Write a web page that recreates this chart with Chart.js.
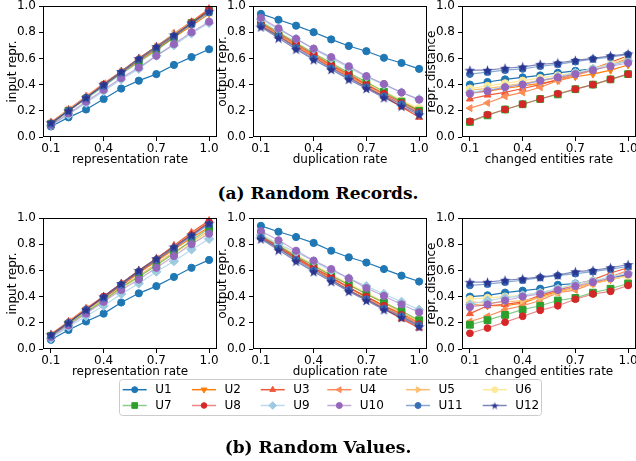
<!DOCTYPE html>
<html><head><meta charset="utf-8">
<script src="https://cdn.jsdelivr.net/npm/chart.js@4"></script>
<style>
html,body{margin:0;padding:0;background:#fff;}
#wrap{position:relative;width:636px;height:461px;overflow:hidden;background:#fff;}
canvas{position:absolute;}
.cap{position:absolute;left:0;width:636px;text-align:center;font-family:'DejaVu Serif';font-weight:bold;font-size:17px;color:#000;line-height:20px;}
</style></head>
<body><div id="wrap">
<canvas id="c1" width="227" height="172" style="left:0;top:-4px"></canvas>
<canvas id="c2" width="227" height="172" style="left:210px;top:-4px"></canvas>
<canvas id="c3" width="227" height="172" style="left:419px;top:-4px"></canvas>
<canvas id="c4" width="227" height="172" style="left:0;top:208px"></canvas>
<canvas id="c5" width="227" height="172" style="left:210px;top:208px"></canvas>
<canvas id="c6" width="227" height="172" style="left:419px;top:208px"></canvas>
<canvas id="leg" width="636" height="56" style="left:0;top:370px"></canvas>
<div class="cap" id="capA" style="top:183px">(a) Random Records.</div>
<div class="cap" id="capB" style="top:437px">(b) Random Values.</div>
</div>
<script>
// ---------- data ----------
const xValues = [0.1,0.2,0.3,0.4,0.5,0.6,0.7,0.8,0.9,1.0];
const xTickValues = [0.1,0.4,0.7,1.0];
const xTickLabels = ['0.1','0.4','0.7','1.0'];
const yTickValues = [0,0.2,0.4,0.6,0.8,1.0];
const yTickLabels = ['0.0','0.2','0.4','0.6','0.8','1.0'];
const seriesNames = ['U1','U2','U3','U4','U5','U6','U7','U8','U9','U10','U11','U12'];
const captions = ['(a) Random Records.','(b) Random Values.'];

// (a) Random Records
const rrInput = [
 [0.08,0.15,0.21,0.29,0.37,0.43,0.48,0.55,0.61,0.67],
 [0.10,0.20,0.30,0.40,0.49,0.58,0.67,0.76,0.85,0.94],
 [0.11,0.21,0.31,0.40,0.50,0.60,0.69,0.79,0.88,0.98],
 [0.11,0.21,0.31,0.41,0.50,0.60,0.69,0.78,0.88,0.97],
 [0.11,0.21,0.30,0.40,0.50,0.59,0.69,0.79,0.87,0.96],
 [0.10,0.20,0.30,0.40,0.49,0.59,0.68,0.77,0.86,0.95],
 [0.10,0.20,0.29,0.39,0.48,0.57,0.66,0.76,0.87,0.97],
 [0.10,0.20,0.30,0.40,0.49,0.59,0.68,0.77,0.87,0.97],
 [0.09,0.17,0.26,0.35,0.44,0.52,0.62,0.70,0.79,0.87],
 [0.09,0.18,0.27,0.36,0.45,0.53,0.62,0.71,0.80,0.88],
 [0.10,0.20,0.30,0.39,0.49,0.59,0.68,0.77,0.86,0.95],
 [0.11,0.20,0.30,0.40,0.50,0.60,0.69,0.78,0.87,0.96]
];
const rrOutput = [
 [0.94,0.895,0.85,0.80,0.745,0.695,0.655,0.605,0.565,0.52],
 [0.86,0.78,0.70,0.62,0.545,0.47,0.40,0.33,0.27,0.20],
 [0.85,0.77,0.69,0.61,0.53,0.46,0.38,0.31,0.23,0.15],
 [0.86,0.78,0.70,0.62,0.54,0.47,0.39,0.32,0.25,0.18],
 [0.87,0.79,0.71,0.63,0.555,0.48,0.41,0.33,0.27,0.21],
 [0.88,0.80,0.72,0.64,0.565,0.49,0.42,0.35,0.28,0.22],
 [0.88,0.80,0.72,0.64,0.565,0.49,0.42,0.345,0.27,0.20],
 [0.87,0.79,0.71,0.63,0.55,0.48,0.40,0.33,0.26,0.19],
 [0.90,0.82,0.75,0.67,0.60,0.53,0.46,0.40,0.34,0.29],
 [0.91,0.83,0.75,0.675,0.61,0.54,0.465,0.405,0.34,0.285],
 [0.85,0.77,0.68,0.60,0.525,0.45,0.38,0.31,0.25,0.18],
 [0.84,0.755,0.67,0.59,0.515,0.44,0.37,0.30,0.235,0.17]
];
const rrDistance = [
 [0.40,0.42,0.44,0.455,0.47,0.49,0.505,0.52,0.55,0.58],
 [0.34,0.35,0.37,0.39,0.41,0.43,0.46,0.48,0.51,0.55],
 [0.29,0.32,0.34,0.37,0.40,0.44,0.48,0.52,0.57,0.62],
 [0.22,0.26,0.31,0.34,0.38,0.43,0.47,0.51,0.55,0.60],
 [0.36,0.37,0.39,0.41,0.43,0.45,0.48,0.51,0.55,0.59],
 [0.37,0.39,0.41,0.43,0.45,0.47,0.49,0.52,0.56,0.61],
 [0.115,0.165,0.21,0.25,0.29,0.325,0.365,0.40,0.44,0.48],
 [0.12,0.17,0.21,0.25,0.29,0.33,0.365,0.40,0.44,0.48],
 [0.34,0.36,0.38,0.40,0.43,0.46,0.49,0.52,0.55,0.58],
 [0.33,0.35,0.38,0.40,0.43,0.455,0.48,0.51,0.54,0.565],
 [0.48,0.495,0.51,0.52,0.54,0.555,0.575,0.595,0.61,0.63],
 [0.51,0.51,0.525,0.535,0.555,0.565,0.585,0.60,0.62,0.635]
];
// (b) Random Values
const rvInput = [
 [0.07,0.145,0.21,0.27,0.355,0.425,0.48,0.55,0.62,0.68],
 [0.10,0.20,0.30,0.39,0.48,0.58,0.67,0.76,0.85,0.93],
 [0.11,0.21,0.31,0.40,0.50,0.60,0.69,0.79,0.89,0.98],
 [0.11,0.21,0.31,0.40,0.50,0.59,0.69,0.78,0.88,0.97],
 [0.10,0.20,0.29,0.38,0.47,0.56,0.65,0.74,0.82,0.90],
 [0.10,0.19,0.28,0.37,0.46,0.55,0.64,0.73,0.81,0.89],
 [0.10,0.19,0.28,0.37,0.47,0.55,0.64,0.73,0.83,0.92],
 [0.10,0.20,0.30,0.40,0.49,0.59,0.68,0.77,0.87,0.97],
 [0.08,0.17,0.25,0.33,0.42,0.50,0.59,0.67,0.76,0.84],
 [0.09,0.18,0.27,0.36,0.45,0.53,0.62,0.71,0.80,0.88],
 [0.10,0.20,0.30,0.39,0.49,0.59,0.68,0.77,0.86,0.95],
 [0.11,0.20,0.30,0.40,0.50,0.60,0.69,0.78,0.87,0.96]
];
const rvOutput = [
 [0.94,0.895,0.855,0.81,0.75,0.70,0.66,0.61,0.56,0.515],
 [0.86,0.78,0.70,0.62,0.545,0.47,0.40,0.33,0.27,0.20],
 [0.85,0.77,0.69,0.61,0.53,0.45,0.38,0.31,0.23,0.16],
 [0.86,0.78,0.70,0.62,0.54,0.47,0.39,0.32,0.25,0.18],
 [0.87,0.79,0.71,0.64,0.56,0.49,0.42,0.35,0.28,0.21],
 [0.88,0.80,0.72,0.645,0.57,0.50,0.43,0.36,0.29,0.22],
 [0.87,0.79,0.71,0.635,0.56,0.49,0.42,0.355,0.29,0.22],
 [0.86,0.78,0.70,0.62,0.55,0.47,0.40,0.33,0.26,0.19],
 [0.87,0.80,0.74,0.67,0.60,0.54,0.48,0.42,0.36,0.30],
 [0.90,0.83,0.75,0.675,0.61,0.54,0.465,0.405,0.34,0.28],
 [0.85,0.77,0.68,0.60,0.525,0.45,0.38,0.31,0.25,0.18],
 [0.84,0.755,0.67,0.59,0.515,0.44,0.37,0.30,0.24,0.17]
];
const rvDistance = [
 [0.40,0.41,0.43,0.445,0.46,0.49,0.50,0.52,0.54,0.57],
 [0.34,0.33,0.33,0.35,0.40,0.44,0.47,0.50,0.53,0.56],
 [0.27,0.33,0.34,0.36,0.41,0.45,0.49,0.53,0.58,0.62],
 [0.21,0.25,0.30,0.33,0.37,0.43,0.45,0.50,0.55,0.60],
 [0.36,0.35,0.36,0.37,0.39,0.43,0.47,0.50,0.53,0.56],
 [0.38,0.39,0.40,0.41,0.43,0.46,0.49,0.52,0.54,0.55],
 [0.185,0.22,0.26,0.30,0.33,0.37,0.39,0.43,0.46,0.50],
 [0.12,0.16,0.205,0.25,0.295,0.33,0.38,0.42,0.44,0.485],
 [0.34,0.37,0.39,0.41,0.43,0.46,0.50,0.52,0.55,0.58],
 [0.32,0.34,0.37,0.40,0.42,0.45,0.48,0.51,0.54,0.57],
 [0.485,0.495,0.51,0.525,0.545,0.56,0.575,0.59,0.61,0.63],
 [0.51,0.51,0.525,0.535,0.55,0.565,0.59,0.60,0.62,0.645]
];

// ---------- styles ----------
const markerColors = ['#1f77b4','#ff7f0e','#f05a3a','#fc8d59','#fdbf6f','#fee99a','#2ca02c','#d62728','#9ecae1','#9467bd','#3a6fb5','#2b3590'];
const lineColors = ['#1f77b4','#ff7f0e','#f05a3a','#fc8d59','#fdbf6f','#fee99a','rgba(44,160,44,0.55)','rgba(214,39,40,0.55)','#b9dbec','rgba(148,103,189,0.55)','rgba(58,111,181,0.6)','rgba(43,53,144,0.6)'];

function makeStar(color, size){
  const c = document.createElement('canvas');
  c.width = size; c.height = size;
  const g = c.getContext('2d');
  const cx = size/2, cy = size/2 + 0.5, R = size/2, r = R*0.4;
  g.beginPath();
  for (let k=0;k<10;k++){
    const rad = -Math.PI/2 + k*Math.PI/5;
    const rr = k%2===0 ? R : r;
    g.lineTo(cx + rr*Math.cos(rad), cy + rr*Math.sin(rad));
  }
  g.closePath(); g.fillStyle = color; g.fill();
  return c;
}
const starBig = makeStar('#2b3590', 11);
const starSmall = makeStar('#2b3590', 8);

const pointStyles = ['circle','triangle','triangle','triangle','triangle','circle','rect','circle','rectRot','circle','circle',starBig];
const pointRotations = [0,180,0,270,90,0,0,0,0,0,0,0];
const pointRadii = [3.6,4,4,4,4,3.6,4.8,3.4,4.6,3.6,3.4,5];

Chart.defaults.font.family = 'DejaVu Sans';
Chart.defaults.font.size = 12;
Chart.defaults.color = '#000';

const framePlugin = {
  id: 'frame',
  afterDraw(chart){
    const a = chart.chartArea, ctx = chart.ctx;
    ctx.save();
    ctx.strokeStyle = '#000'; ctx.lineWidth = 1;
    ctx.strokeRect(Math.round(a.left)+0.5, Math.round(a.top)+0.5, Math.round(a.right-a.left)-1, Math.round(a.bottom-a.top)-1);
    ctx.restore();
  }
};

function makeDatasets(values){
  return seriesNames.map((name,i)=>({
    label: name,
    data: xValues.map((x,j)=>({x:x, y:values[i][j]})),
    borderColor: lineColors[i],
    backgroundColor: markerColors[i],
    pointBackgroundColor: markerColors[i],
    pointBorderColor: markerColors[i],
    pointBorderWidth: 1,
    pointStyle: pointStyles[i],
    pointRotation: pointRotations[i],
    pointRadius: pointRadii[i],
    borderWidth: 1.2,
    tension: 0,
    order: 12 - i,
    clip: false
  }));
}

function makeChart(id, values, xTitle, yTitle){
  new Chart(document.getElementById(id), {
    type: 'line',
    data: { datasets: makeDatasets(values) },
    plugins: [framePlugin],
    options: {
      responsive: false, animation: false, devicePixelRatio: 1,
      layout: { padding: { top: 10, right: 10, left: 0, bottom: 0 } },
      plugins: { legend: { display: false }, tooltip: { enabled: false } },
      scales: {
        x: {
          type: 'linear', min: 0.055, max: 1.045,
          afterBuildTicks: s => { s.ticks = xTickValues.map(v => ({value: v})); },
          afterFit: s => { s.height = 31; s.paddingLeft = 0; s.paddingRight = 0; },
          ticks: { callback: (v, i) => xTickLabels[i], autoSkip: false, maxRotation: 0, padding: 1, color: '#000', font: {size: 12} },
          grid: { drawOnChartArea: false, drawTicks: true, tickLength: 4, color: '#000', tickWidth: 1 },
          border: { display: false },
          title: { display: true, text: xTitle, color: '#000', font: {size: 12}, padding: {top: 0, bottom: 1} }
        },
        y: {
          type: 'linear', min: 0, max: 1,
          afterBuildTicks: s => { s.ticks = yTickValues.map(v => ({value: v})); },
          afterFit: s => { s.width = 43; s.paddingTop = 0; s.paddingBottom = 0; },
          ticks: { callback: (v, i) => yTickLabels[i], autoSkip: false, padding: 3, color: '#000', font: {size: 12} },
          grid: { drawOnChartArea: false, drawTicks: true, tickLength: 4, color: '#000', tickWidth: 1 },
          border: { display: false },
          title: { display: true, text: yTitle, color: '#000', font: {size: 12}, padding: {top: 6, bottom: 0} }
        }
      }
    }
  });
}

makeChart('c1', rrInput, 'representation rate', 'input repr.');
makeChart('c2', rrOutput, 'duplication rate', 'output repr.');
makeChart('c3', rrDistance, 'changed entities rate', 'repr. distance');
makeChart('c4', rvInput, 'representation rate', 'input repr.');
makeChart('c5', rvOutput, 'duplication rate', 'output repr.');
makeChart('c6', rvDistance, 'changed entities rate', 'repr. distance');

document.getElementById('capA').textContent = captions[0];
document.getElementById('capB').textContent = captions[1];

// ---------- legend ----------
(function(){
  const cv = document.getElementById('leg');
  const ctx = cv.getContext('2d');
  const oy = 370;
  const boxL = 119.5, boxR = 541.5, boxT = 379.5 - oy, boxB = 415.5 - oy;
  ctx.fillStyle = 'rgba(255,255,255,0.8)';
  ctx.strokeStyle = '#cccccc'; ctx.lineWidth = 1;
  ctx.beginPath();
  ctx.roundRect(boxL, boxT, boxR - boxL, boxB - boxT, 3);
  ctx.fill(); ctx.stroke();
  const colX = [122.7, 192, 260.7, 327.3, 406, 482.7];
  const rowY = [389.7 - oy, 405.5 - oy];
  const legendRadii = [3,3.4,3.4,3.4,3.4,3,4,2.8,3.8,3,3,4];
  ctx.font = '12px "DejaVu Sans"';
  ctx.textBaseline = 'middle';
  seriesNames.forEach((name, i) => {
    const col = i % 6, row = Math.floor(i / 6);
    const x0 = colX[col], y = rowY[row];
    ctx.save();
    ctx.strokeStyle = lineColors[i]; ctx.lineWidth = 1.5;
    ctx.beginPath(); ctx.moveTo(x0, y); ctx.lineTo(x0 + 24, y); ctx.stroke();
    ctx.restore();
    ctx.save();
    ctx.fillStyle = markerColors[i]; ctx.strokeStyle = markerColors[i]; ctx.lineWidth = 1;
    const ps = (i === 11) ? starSmall : pointStyles[i];
    Chart.helpers.drawPoint(ctx, { pointStyle: ps, rotation: pointRotations[i], radius: legendRadii[i], borderWidth: 1 }, x0 + 12, y);
    ctx.restore();
    ctx.fillStyle = '#000';
    ctx.fillText(name, x0 + 32.5, y + 0.5);
  });
})();
</script>
</body></html>
